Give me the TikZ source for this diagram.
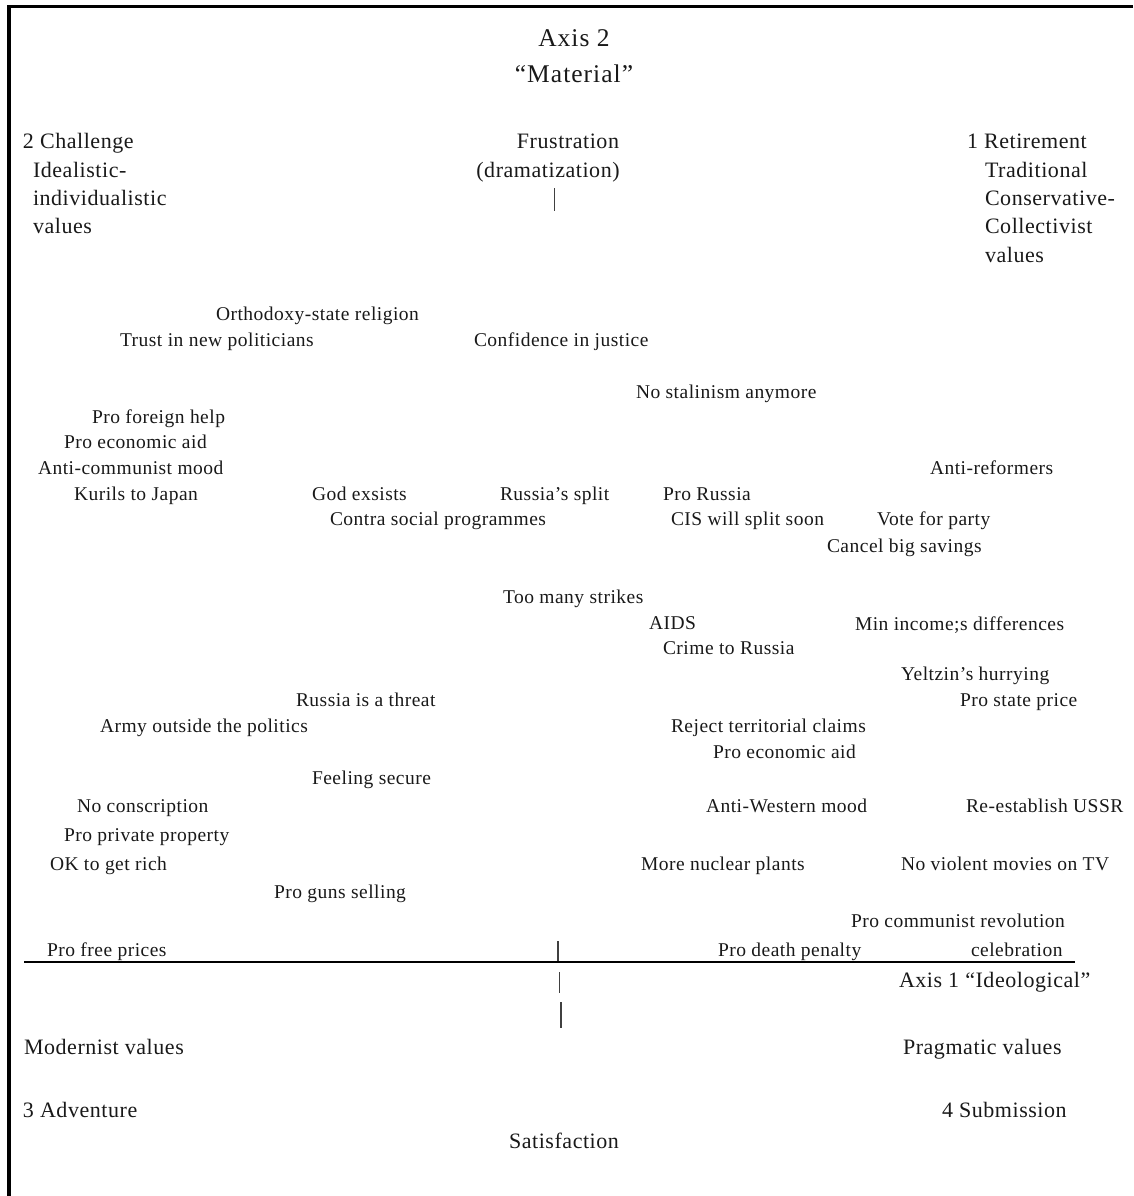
\documentclass[tikz,border=0pt]{standalone}
\usepackage{fontspec}
\setmainfont{Liberation Serif}[LetterSpace=2.5]
\newfontfamily\headfont{Liberation Serif}[LetterSpace=4]
\begin{document}
\begin{tikzpicture}[x=1pt,y=-1pt,
  lbl/.style={anchor=base west,inner sep=0pt,outer sep=0pt,
    font=\fontsize{19.5}{23}\selectfont,text=black!90},
  capt/.style={lbl,font=\fontsize{22}{26}\selectfont},
  captc/.style={capt,anchor=base},
  head/.style={lbl,anchor=base,font=\headfont\fontsize{25.5}{30}\selectfont},
  frame/.style={line width=3.5pt,black},
  axisline/.style={line width=2.5pt,black},
  tick/.style={line width=1.4pt,black!75}]
\useasboundingbox (0,0) rectangle (1133,1196);

% frame (left and top edges)
\coordinate (fTL) at (9,6.5);
\coordinate (fTR) at (1133,6.5);
\coordinate (fBL) at (9,1196);
\draw[frame] (fTR) -- (fTL) -- (fBL);

% axis 2 heading
\node[head] (ax2) at (574,47) {Axis 2};
\node[head] (mat) at (574,83) {“Material”};

% upper quadrant captions
\node[capt] (q2a) at (23,148) {2 Challenge};
\node[capt] (q2b) at (33,177) {Idealistic-};
\node[capt] (q2c) at (33,205) {individualistic};
\node[capt] (q2d) at (33,233) {values};

\node[captc] (fru) at (568,149) {Frustration};
\node[captc] (dra) at (548,177) {(dramatization)};
\coordinate (t0a) at (554.5,188);
\coordinate (t0b) at (554.5,211);
\draw[tick] (t0a) -- (t0b);

\node[capt] (q1a) at (967,148) {1 Retirement};
\node[capt] (q1b) at (985,177) {Traditional};
\node[capt] (q1c) at (985,205) {Conservative-};
\node[capt] (q1d) at (985,233) {Collectivist};
\node[capt] (q1e) at (985,262) {values};

% attitude items
\node[lbl] (i01) at (216,320) {Orthodoxy-state religion};
\node[lbl] (i02) at (120,346) {Trust in new politicians};
\node[lbl] (i03) at (474,346) {Confidence in justice};
\node[lbl] (i04) at (636,398) {No stalinism anymore};
\node[lbl] (i05) at (92,423) {Pro foreign help};
\node[lbl] (i06) at (64,448) {Pro economic aid};
\node[lbl] (i07) at (38,474) {Anti-communist mood};
\node[lbl] (i08) at (930,474) {Anti-reformers};
\node[lbl] (i09) at (74,500) {Kurils to Japan};
\node[lbl] (i10) at (312,500) {God exsists};
\node[lbl] (i11) at (500,500) {Russia’s split};
\node[lbl] (i12) at (663,500) {Pro Russia};
\node[lbl] (i13) at (330,525) {Contra social programmes};
\node[lbl] (i14) at (671,525) {CIS will split soon};
\node[lbl] (i15) at (877,525) {Vote for party};
\node[lbl] (i16) at (827,552) {Cancel big savings};
\node[lbl] (i17) at (503,603) {Too many strikes};
\node[lbl] (i18) at (649,629) {AIDS};
\node[lbl] (i19) at (855,630) {Min income;s differences};
\node[lbl] (i20) at (663,654) {Crime to Russia};
\node[lbl] (i21) at (901,680) {Yeltzin’s hurrying};
\node[lbl] (i22) at (296,706) {Russia is a threat};
\node[lbl] (i23) at (960,706) {Pro state price};
\node[lbl] (i24) at (100,732) {Army outside the politics};
\node[lbl] (i25) at (671,732) {Reject territorial claims};
\node[lbl] (i26) at (713,758) {Pro economic aid};
\node[lbl] (i27) at (312,784) {Feeling secure};
\node[lbl] (i28) at (77,812) {No conscription};
\node[lbl] (i29) at (706,812) {Anti-Western mood};
\node[lbl] (i30) at (966,812) {Re-establish USSR};
\node[lbl] (i31) at (64,841) {Pro private property};
\node[lbl] (i32) at (50,870) {OK to get rich};
\node[lbl] (i33) at (641,870) {More nuclear plants};
\node[lbl] (i34) at (901,870) {No violent movies on TV};
\node[lbl] (i35) at (274,898) {Pro guns selling};
\node[lbl] (i36) at (851,927) {Pro communist revolution};
\node[lbl] (i37) at (47,956) {Pro free prices};
\node[lbl] (i38) at (718,956) {Pro death penalty};
\node[lbl] (i39) at (971,956) {celebration};

% axis 1 and centre ticks
\coordinate (axL) at (24,962);
\coordinate (axR) at (1075,962);
\draw[axisline] (axL) -- (axR);
\coordinate (t1a) at (558,941);
\coordinate (t1b) at (558,961);
\draw[tick] (t1a) -- (t1b);
\coordinate (t2a) at (559.3,972);
\coordinate (t2b) at (559.3,993);
\draw[tick] (t2a) -- (t2b);
\coordinate (t3a) at (560.7,1002);
\coordinate (t3b) at (560.7,1028);
\draw[tick,line width=1.8pt] (t3a) -- (t3b);

\node[capt] (ax1) at (899,987) {Axis 1 “Ideological”};

% lower quadrant captions
\node[capt] (mod) at (24,1054) {Modernist values};
\node[capt] (pra) at (903,1054) {Pragmatic values};
\node[capt] (q3) at (23,1117) {3 Adventure};
\node[capt] (q4) at (942,1117) {4 Submission};
\node[captc] (sat) at (564,1148) {Satisfaction};
\end{tikzpicture}
\end{document}
